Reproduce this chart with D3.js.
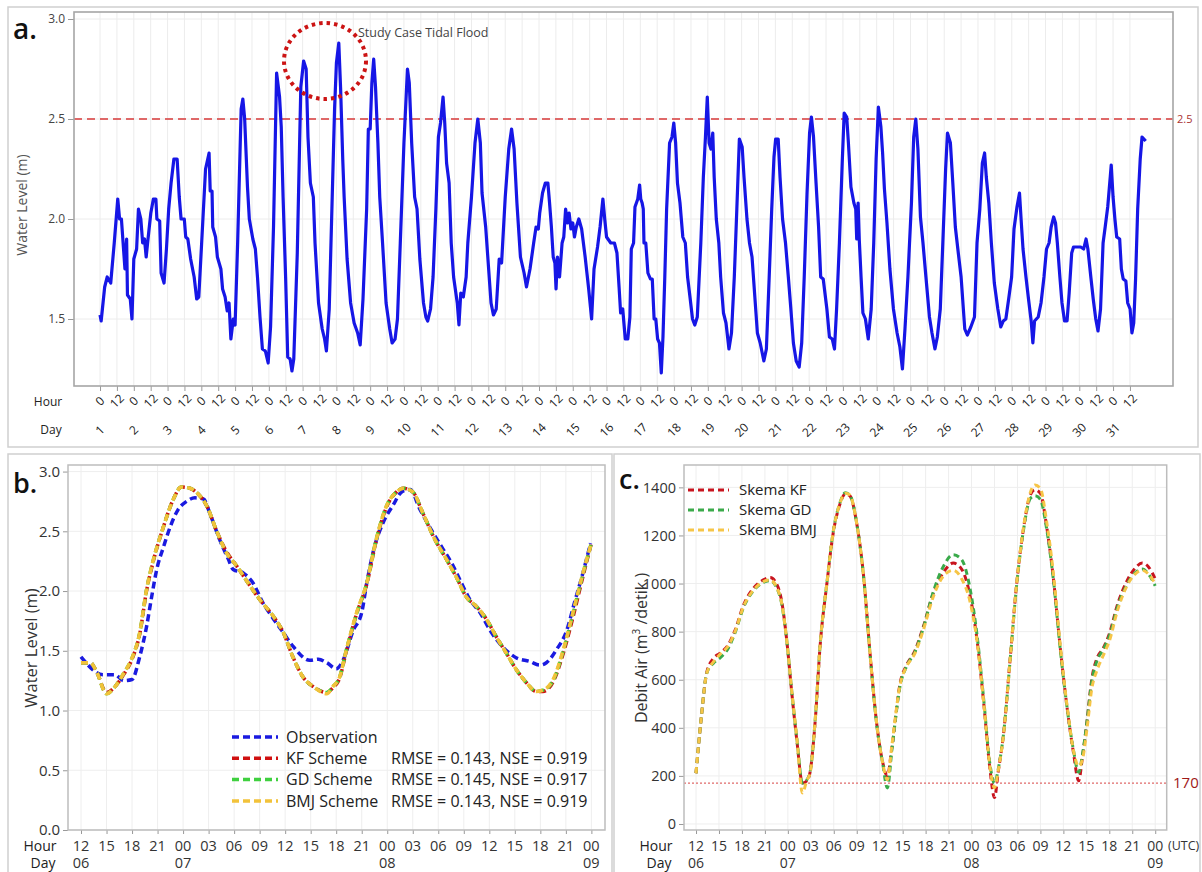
<!DOCTYPE html>
<html><head><meta charset="utf-8">
<script src="https://cdn.jsdelivr.net/npm/d3@7"></script>
<style>
body{margin:0;background:#fff;}
svg{display:block;font-family:"Open Sans","Noto Sans",sans-serif;}
</style></head><body>
<svg id="chart" width="1202" height="872"></svg>
<script>
// ---------- Panel a data: hourly tide record (hour since day 1 00:00, water level m) ----------
const tideObs = [[0,1.52],[0.8,1.49],[3.3,1.66],[5.1,1.71],[7.6,1.68],[10.1,1.88],[12.6,2.10],[13.9,2.00],[15.2,2.00],[17.7,1.75],[18.9,1.90],[19.5,1.62],[21.5,1.60],[22.7,1.50],[24.0,1.80],[26.0,1.85],[27.3,2.05],[29.0,2.00],[30.3,1.88],[31.6,1.90],[32.8,1.81],[34.1,1.90],[36.1,2.03],[37.9,2.10],[39.7,2.10],[40.4,2.00],[42.4,1.99],[43.4,1.73],[45.5,1.68],[47.2,1.85],[48.8,2.05],[50.5,2.18],[52.5,2.30],[54.8,2.30],[56.3,2.11],[57.6,2.00],[59.9,2.00],[60.9,1.91],[62.4,1.90],[64.4,1.80],[66.9,1.71],[68.7,1.60],[70.2,1.61],[72.0,1.85],[75.0,2.25],[77.5,2.33],[78.3,2.14],[79.6,2.14],[80.1,1.96],[82.1,1.91],[83.4,1.81],[85.9,1.75],[87.1,1.65],[88.9,1.61],[90.4,1.54],[91.7,1.58],[93.0,1.40],[94.7,1.50],[96.0,1.47],[97.8,1.88],[100.3,2.55],[101.5,2.60],[102.8,2.50],[104.8,2.16],[106.1,2.00],[108.6,1.90],[110.4,1.85],[111.9,1.71],[113.7,1.51],[115.4,1.35],[117.5,1.34],[119.5,1.28],[121.2,1.46],[123.3,1.96],[125.5,2.73],[127.6,2.61],[128.8,2.46],[130.1,2.11],[131.9,1.71],[133.4,1.31],[135.1,1.30],[136.4,1.24],[137.7,1.30],[140.2,1.83],[142.7,2.66],[144.7,2.79],[146.5,2.75],[147.8,2.41],[149.5,2.18],[151.6,2.11],[152.8,1.88],[155.3,1.58],[157.9,1.45],[159.6,1.40],[160.9,1.34],[162.9,1.55],[166.7,2.55],[168.0,2.78],[169.7,2.88],[171.0,2.65],[172.5,2.30],[173.5,2.11],[175.6,1.80],[178.1,1.58],[180.6,1.48],[183.1,1.43],[184.9,1.37],[186.9,1.60],[189.5,2.05],[190.7,2.45],[192.0,2.45],[193.2,2.68],[194.5,2.80],[195.8,2.66],[197.5,2.38],[198.8,2.11],[200.8,1.88],[203.3,1.58],[205.9,1.45],[207.6,1.38],[209.7,1.40],[211.4,1.50],[213.4,1.88],[216.0,2.38],[218.5,2.75],[219.8,2.68],[221.5,2.38],[223.6,2.11],[225.3,2.05],[227.3,1.80],[229.9,1.58],[231.6,1.51],[232.9,1.49],[234.9,1.55],[236.7,1.71],[238.7,2.05],[240.5,2.41],[242.0,2.48],[243.8,2.61],[245.0,2.48],[246.3,2.28],[248.1,2.18],[249.6,1.88],[251.3,1.71],[253.9,1.58],[255.1,1.47],[256.4,1.63],[258.2,1.61],[260.2,1.71],[261.4,1.88],[264.0,2.11],[266.5,2.38],[268.5,2.50],[270.3,2.38],[271.5,2.13],[274.1,1.96],[276.6,1.71],[277.9,1.58],[279.6,1.52],[281.6,1.55],[283.7,1.80],[285.4,1.78],[288.0,2.11],[290.5,2.35],[292.5,2.45],[294.3,2.35],[296.3,2.08],[298.8,1.81],[301.4,1.73],[303.1,1.66],[305.6,1.75],[308.2,1.88],[309.9,1.96],[311.5,1.95],[312.5,2.03],[314.5,2.13],[316.5,2.18],[318.3,2.18],[319.5,2.08],[320.8,1.96],[322.1,1.81],[323.3,1.78],[324.1,1.65],[325.1,1.81],[326.6,1.71],[328.4,1.88],[329.6,1.91],[330.9,2.05],[332.2,1.98],[333.4,2.03],[334.7,1.95],[336.0,1.98],[337.2,1.91],[338.5,1.96],[340.3,2.00],[342.3,1.95],[344.8,1.81],[347.3,1.65],[349.4,1.50],[351.1,1.75],[353.6,1.86],[355.4,1.96],[357.4,2.10],[358.7,2.00],[360.0,1.91],[363.0,1.88],[365.6,1.88],[367.4,1.83],[368.9,1.66],[370.0,1.53],[371.5,1.55],[373.3,1.40],[375.1,1.40],[376.6,1.51],[377.6,1.85],[379.2,1.88],[380.2,2.06],[382.2,2.10],[383.5,2.17],[384.3,2.10],[385.3,2.08],[386.1,2.05],[386.6,1.88],[387.9,1.88],[389.4,1.73],[391.2,1.70],[392.5,1.70],[393.8,1.50],[395.0,1.50],[396.3,1.40],[397.6,1.38],[398.9,1.23],[400.1,1.41],[401.4,1.71],[402.7,2.05],[404.8,2.38],[406.5,2.41],[407.8,2.48],[409.1,2.38],[410.4,2.18],[412.2,2.08],[414.2,1.91],[416.0,1.88],[417.6,1.71],[419.3,1.61],[421.1,1.50],[422.7,1.47],[424.5,1.51],[427.0,1.88],[428.8,2.21],[430.3,2.41],[431.6,2.61],[432.9,2.38],[434.2,2.35],[435.5,2.43],[436.5,2.21],[438.0,2.00],[439.8,1.88],[441.1,1.71],[443.1,1.53],[444.9,1.48],[447.0,1.35],[448.8,1.43],[450.8,1.71],[452.6,2.05],[454.4,2.40],[456.4,2.36],[457.7,2.21],[459.8,2.00],[461.6,1.88],[463.4,1.81],[465.4,1.61],[467.2,1.43],[469.2,1.38],[471.8,1.29],[473.6,1.35],[475.6,1.71],[477.4,2.05],[479.0,2.31],[480.2,2.40],[482.0,2.40],[483.3,2.21],[485.1,2.00],[487.2,1.88],[489.2,1.71],[491.0,1.55],[492.8,1.38],[494.8,1.29],[496.9,1.26],[498.7,1.38],[500.5,1.71],[502.5,2.13],[504.3,2.43],[505.6,2.51],[507.1,2.41],[508.9,2.18],[510.7,1.96],[512.2,1.71],[514.0,1.70],[516.6,1.55],[518.4,1.41],[520.4,1.40],[522.0,1.35],[523.5,1.55],[525.5,1.88],[527.6,2.30],[528.9,2.53],[530.7,2.51],[531.9,2.38],[533.7,2.16],[535.8,2.08],[537.1,2.05],[537.8,1.90],[538.8,2.08],[539.6,1.90],[540.9,1.71],[542.2,1.53],[544.0,1.50],[546.0,1.40],[548.1,1.55],[549.9,1.88],[551.6,2.30],[553.2,2.56],[555.0,2.46],[556.2,2.33],[557.5,2.15],[559.3,1.98],[561.4,1.75],[563.9,1.55],[566.5,1.43],[568.5,1.36],[570.3,1.25],[572.1,1.45],[574.2,1.71],[576.7,2.08],[578.3,2.41],[579.8,2.50],[581.3,2.35],[583.1,2.01],[584.9,1.88],[587.0,1.71],[589.5,1.51],[591.3,1.43],[593.4,1.35],[595.1,1.41],[597.2,1.55],[599.0,1.88],[601.0,2.25],[602.3,2.43],[604.4,2.38],[606.1,2.18],[607.9,1.96],[610.0,1.83],[612.0,1.71],[614.6,1.45],[616.4,1.42],[618.9,1.46],[621.5,1.51],[623.3,1.88],[625.3,2.05],[627.1,2.28],[628.7,2.33],[629.9,2.21],[631.7,2.08],[633.5,1.88],[635.6,1.68],[638.1,1.55],[640.2,1.46],[642.0,1.49],[643.8,1.50],[645.8,1.60],[647.9,1.71],[649.6,1.95],[651.7,2.06],[653.5,2.13],[654.8,1.98],[656.0,1.85],[658.1,1.71],[659.9,1.60],[661.8,1.49],[663.0,1.38],[664.2,1.49],[666.8,1.51],[668.8,1.58],[670.9,1.71],[672.7,1.85],[674.5,1.88],[676.0,1.96],[677.8,2.01],[679.1,1.98],[680.4,1.88],[682.2,1.71],[683.7,1.58],[685.5,1.49],[687.3,1.49],[688.8,1.63],[690.6,1.83],[691.9,1.86],[694.4,1.86],[697.0,1.86],[699.1,1.85],[700.8,1.90],[702.1,1.85],[704.2,1.71],[705.9,1.60],[707.7,1.50],[709.3,1.44],[711.1,1.55],[712.9,1.88],[714.4,1.96],[716.2,2.06],[718.0,2.21],[718.7,2.27],[720.0,2.11],[721.3,2.00],[722.6,1.91],[724.7,1.90],[725.9,1.75],[727.2,1.70],[729.1,1.69],[730.4,1.58],[732.1,1.55],[733.4,1.43],[734.7,1.48],[736.0,1.70],[737.5,2.05],[739.3,2.30],[740.6,2.41],[743.2,2.39]];
const levelTicksA = [1.5, 2.0, 2.5, 3.0];
const hourTicksA = d3.range(0, 733, 12);
const dayLabelsA = d3.range(1, 32).map(String);
const thresholdA = 2.5;

// ---------- Panel b data (hours since 06 12:00 UTC) ----------
const bObservation = [[0,1.45],[2.6,1.30],[4.0,1.30],[5.0,1.25],[6.0,1.26],[6.9,1.45],[7.7,1.70],[8.3,1.95],[8.9,2.18],[9.7,2.37],[10.5,2.54],[11.4,2.68],[12.4,2.75],[13.4,2.78],[14.4,2.77],[15.2,2.64],[16.3,2.43],[17.3,2.27],[17.9,2.18],[19.1,2.15],[20.2,2.07],[21.4,1.90],[22.4,1.79],[23.8,1.65],[24.9,1.54],[26.9,1.42],[27.9,1.43],[28.9,1.40],[30.0,1.35],[30.8,1.42],[32.0,1.67],[33.0,1.82],[33.6,2.07],[34.5,2.37],[35.5,2.57],[36.7,2.72],[37.7,2.83],[38.7,2.85],[39.8,2.69],[41.2,2.51],[42.4,2.37],[43.6,2.23],[44.7,2.07],[45.7,1.93],[46.9,1.82],[48.1,1.67],[49.6,1.53],[51.2,1.44],[52.8,1.41],[53.9,1.38],[54.7,1.40],[55.9,1.51],[57.1,1.67],[58.0,1.90],[59.0,2.15],[59.9,2.40]];
const bHours = [0,1.1,1.8,3.0,4.0,5.0,6.0,6.9,7.7,8.5,9.7,10.8,11.8,12.8,13.8,14.8,15.9,17.1,18.3,19.9,21.0,22.6,23.8,24.9,26.1,27.3,28.9,29.6,30.4,31.2,32.4,33.6,34.7,35.9,37.1,37.9,39.0,40.2,41.4,43.0,44.1,45.3,46.5,47.7,48.8,50.0,51.2,52.4,53.5,54.3,55.5,56.7,57.9,59.0,60.0];
const bKF  = [1.40,1.40,1.33,1.15,1.20,1.30,1.43,1.64,2.00,2.25,2.54,2.76,2.87,2.86,2.81,2.71,2.51,2.33,2.21,2.04,1.93,1.79,1.65,1.45,1.28,1.20,1.15,1.19,1.27,1.50,1.81,2.06,2.42,2.70,2.83,2.86,2.83,2.65,2.46,2.26,2.12,1.95,1.87,1.76,1.62,1.48,1.34,1.23,1.16,1.16,1.24,1.48,1.80,2.12,2.40];
const bGD  = [1.40,1.40,1.33,1.14,1.20,1.31,1.44,1.65,2.01,2.26,2.54,2.76,2.87,2.86,2.81,2.71,2.51,2.32,2.21,2.04,1.93,1.79,1.65,1.45,1.28,1.20,1.15,1.20,1.28,1.51,1.81,2.07,2.43,2.71,2.83,2.86,2.83,2.65,2.46,2.26,2.12,1.95,1.87,1.76,1.62,1.48,1.34,1.23,1.16,1.17,1.25,1.50,1.83,2.14,2.40];
const bBMJ = [1.40,1.40,1.33,1.14,1.20,1.31,1.44,1.65,2.01,2.26,2.54,2.76,2.87,2.86,2.81,2.71,2.51,2.32,2.21,2.04,1.93,1.79,1.65,1.45,1.28,1.20,1.14,1.20,1.28,1.51,1.82,2.07,2.43,2.71,2.83,2.86,2.83,2.65,2.46,2.26,2.12,1.95,1.87,1.76,1.62,1.48,1.34,1.23,1.16,1.17,1.26,1.51,1.84,2.15,2.40];
const levelTicksB = [0,0.5,1.0,1.5,2.0,2.5,3.0];
const hourTicksB = d3.range(0, 61, 3);
const hourLabelsB = ['12','15','18','21','00','03','06','09','12','15','18','21','00','03','06','09','12','15','18','21','00'];
const dayTicksB = [0, 12, 36, 60];
const dayLabelsB = ['06','07','08','09'];
const legendB = ['Observation','KF Scheme','GD Scheme','BMJ Scheme'];
const statsB = ['', 'RMSE = 0.143, NSE = 0.919', 'RMSE = 0.145, NSE = 0.917', 'RMSE = 0.143, NSE = 0.919'];

// ---------- Panel c data (hours since 06 12:00 UTC, discharge m3/s) ----------
const cHours = [0,0.7,1.4,2.3,3.1,4.2,5.1,6.2,7.5,8.8,9.7,10.5,11.2,11.9,12.5,13.2,13.9,14.5,14.9,15.6,16.2,17.1,17.9,18.8,19.5,20.1,21.0,21.9,22.7,23.6,24.4,25.0,25.6,26.7,27.5,28.6,29.7,31.0,32.3,33.6,34.7,35.8,36.7,37.6,38.4,39.0,39.5,40.2,41.0,41.9,42.8,43.7,44.3,45.0,45.8,46.7,47.6,48.5,49.3,50.0,50.5,51.1,51.7,52.4,53.2,54.1,55.0,56.3,57.4,58.3,59.1,60.0];
const cKF  = [211,446,630,690,710,745,805,910,980,1015,1025,1000,925,750,550,340,170,180,215,440,735,1000,1205,1330,1372,1365,1250,1030,725,420,255,200,320,590,660,720,820,960,1045,1085,1060,950,770,500,230,110,220,380,670,1000,1230,1370,1390,1375,1240,1020,730,480,300,180,280,430,600,690,730,800,905,1010,1065,1085,1070,1020];
const cGD  = [211,446,627,670,690,730,795,900,970,1005,1012,985,915,750,555,350,170,185,215,445,738,1002,1210,1335,1378,1368,1250,1025,720,415,250,150,310,580,655,715,815,965,1070,1120,1100,980,790,515,250,170,230,380,665,995,1225,1355,1365,1350,1230,1015,725,480,310,215,290,430,590,680,725,790,895,995,1045,1060,1040,990];
const cBMJ = [211,446,627,675,705,740,800,904,973,1008,1015,987,918,751,557,349,129,183,211,446,737,1001,1209,1333,1375,1368,1250,1028,723,419,252,185,330,585,654,710,807,945,1030,1055,1020,925,765,502,238,150,225,377,668,1001,1236,1380,1410,1395,1260,1040,740,488,308,240,270,400,560,640,700,770,880,990,1040,1055,1040,1000];
const flowTicksC = [0,200,400,600,800,1000,1200,1400];
const thresholdC = 170;
const legendC = ['Skema KF','Skema GD','Skema BMJ'];

// ---------- drawing ----------
const FONT = '"Open Sans","Noto Sans",sans-serif';
const svg = d3.select('#chart');
svg.append('rect').attr('width',1202).attr('height',872).attr('fill','#fff');

// panel frames
svg.append('rect').attr('x',8).attr('y',7).attr('width',1190).attr('height',440).attr('fill','none').attr('stroke','#cfcfcf').attr('stroke-width',1.5);
svg.append('rect').attr('x',8).attr('y',454).attr('width',604).attr('height',430).attr('fill','none').attr('stroke','#cfcfcf').attr('stroke-width',1.5);
svg.append('rect').attr('x',614).attr('y',454).attr('width',586).attr('height',430).attr('fill','none').attr('stroke','#cfcfcf').attr('stroke-width',1.5);

function styleAxis(g, size, color){
  g.attr('font-family', FONT).attr('font-size', size);
  g.select('.domain').remove();
  g.selectAll('.tick line').attr('stroke','#999');
  g.selectAll('.tick text').attr('fill', color);
}

// ===== Panel a =====
const xA = d3.scaleLinear().domain([-18.5, 762.6]).range([74, 1173]);
const yA = d3.scaleLinear().domain([1.165, 3.035]).range([386, 12]);
const gA = svg.append('g');
gA.append('g').selectAll('line').data(hourTicksA).join('line')
  .attr('x1', d => xA(d)).attr('x2', d => xA(d)).attr('y1', 12).attr('y2', 386)
  .attr('stroke', '#ececec').attr('stroke-width', 1);
gA.append('g').selectAll('line').data(levelTicksA).join('line')
  .attr('x1', 74).attr('x2', 1173).attr('y1', d => yA(d)).attr('y2', d => yA(d))
  .attr('stroke', '#ececec').attr('stroke-width', 1);
gA.append('g').attr('transform','translate(74,0)')
  .call(d3.axisLeft(yA).tickValues(levelTicksA).tickFormat(d3.format('.1f')).tickSize(6).tickPadding(3))
  .call(g => styleAxis(g, 12, '#444'));
gA.append('g').attr('transform','translate(0,386)')
  .call(d3.axisBottom(xA).tickValues(hourTicksA).tickFormat('').tickSize(5))
  .call(g => styleAxis(g, 12, '#444'));
gA.append('line').attr('x1',74).attr('x2',1173).attr('y1',yA(thresholdA)).attr('y2',yA(thresholdA))
  .attr('stroke','#d83a3a').attr('stroke-width',1.6).attr('stroke-dasharray','8,5');
gA.append('text').attr('x',1177).attr('y',yA(thresholdA)).attr('dy','0.35em')
  .attr('font-size',11).attr('fill','#a33').text(thresholdA.toFixed(1));
gA.append('path').datum(tideObs)
  .attr('d', d3.line().x(d => xA(d[0])).y(d => yA(d[1])))
  .attr('fill','none').attr('stroke','#1616e6').attr('stroke-width',3.2).attr('stroke-linejoin','round');
gA.append('rect').attr('x',74).attr('y',12).attr('width',1099).attr('height',374)
  .attr('fill','none').attr('stroke','#a6a6a6').attr('stroke-width',1.6);
gA.append('ellipse').attr('cx',325).attr('cy',61).attr('rx',41).attr('ry',38)
  .attr('fill','none').attr('stroke','#cc1414').attr('stroke-width',4).attr('stroke-dasharray','3.5,4');
gA.append('text').attr('x',358).attr('y',37).attr('font-size',12.5).attr('fill','#444').text('Study Case Tidal Flood');
gA.selectAll('text.hl').data(hourTicksA).join('text').attr('class','hl')
  .attr('transform', d => `translate(${xA(d)},401) rotate(-45)`)
  .attr('text-anchor','middle').attr('dy','0.35em').attr('font-size',12).attr('fill','#222')
  .text(d => d % 24 === 0 ? '0' : '12');
gA.selectAll('text.dl').data(dayLabelsA).join('text').attr('class','dl')
  .attr('transform', (d, i) => `translate(${xA(i * 24)},430) rotate(-45)`)
  .attr('text-anchor','middle').attr('dy','0.35em').attr('font-size',12).attr('fill','#222')
  .text(d => d);
gA.append('text').attr('x',48).attr('y',402).attr('dy','0.35em').attr('text-anchor','middle').attr('font-size',12).attr('fill','#222').text('Hour');
gA.append('text').attr('x',51).attr('y',430).attr('dy','0.35em').attr('text-anchor','middle').attr('font-size',12).attr('fill','#222').text('Day');
gA.append('text').attr('transform','translate(22,205) rotate(-90)').attr('text-anchor','middle').attr('dy','0.35em')
  .attr('font-size',14).attr('fill','#555').text('Water Level (m)');
svg.append('text').attr('x',13).attr('y',39).attr('font-size',28).attr('font-weight',600).attr('fill','#111').text('a.');

// ===== Panel b =====
const xB = d3.scaleLinear().domain([-1.53, 61.6]).range([68, 605]);
const yB = d3.scaleLinear().domain([0, 3.055]).range([830, 465]);
const gB = svg.append('g');
gB.append('g').selectAll('line').data(hourTicksB).join('line')
  .attr('x1', d => xB(d)).attr('x2', d => xB(d)).attr('y1', 465).attr('y2', 830).attr('stroke','#eeeeee');
gB.append('g').selectAll('line').data(levelTicksB).join('line')
  .attr('x1', 68).attr('x2', 605).attr('y1', d => yB(d)).attr('y2', d => yB(d)).attr('stroke','#eeeeee');
gB.append('g').attr('transform','translate(68,0)')
  .call(d3.axisLeft(yB).tickValues(levelTicksB).tickFormat(d3.format('.1f')).tickSize(5).tickPadding(3))
  .call(g => styleAxis(g, 15, '#333'));
gB.append('g').attr('transform','translate(0,830)')
  .call(d3.axisBottom(xB).tickValues(hourTicksB).tickFormat('').tickSize(4))
  .call(g => styleAxis(g, 15, '#333'));
const lineB = d3.line().x(d => xB(d[0])).y(d => yB(d[1])).curve(d3.curveMonotoneX);
const seriesB = [
  {name: legendB[0], pts: bObservation, color: '#1a1ae0'},
  {name: legendB[1], pts: bHours.map((h, i) => [h, bKF[i]]), color: '#d01010'},
  {name: legendB[2], pts: bHours.map((h, i) => [h, bGD[i]]), color: '#3fd03f'},
  {name: legendB[3], pts: bHours.map((h, i) => [h, bBMJ[i]]), color: '#f2c23a'}
];
gB.selectAll('path.s').data(seriesB).join('path').attr('class','s')
  .attr('d', d => lineB(d.pts)).attr('fill','none').attr('stroke', d => d.color)
  .attr('stroke-width',3.5).attr('stroke-dasharray','7,4');
gB.append('rect').attr('x',68).attr('y',465).attr('width',537).attr('height',365)
  .attr('fill','none').attr('stroke','#bdbdbd').attr('stroke-width',1.5);
gB.selectAll('text.hl').data(hourTicksB).join('text').attr('class','hl')
  .attr('x', d => xB(d)).attr('y', 846).attr('dy','0.35em').attr('text-anchor','middle')
  .attr('font-size',14.5).attr('fill','#333').text((d, i) => hourLabelsB[i]);
gB.selectAll('text.dl').data(dayTicksB).join('text').attr('class','dl')
  .attr('x', d => xB(d)).attr('y', 863).attr('dy','0.35em').attr('text-anchor','middle')
  .attr('font-size',14.5).attr('fill','#333').text((d, i) => dayLabelsB[i]);
gB.append('text').attr('x',40).attr('y',846).attr('dy','0.35em').attr('text-anchor','middle').attr('font-size',14).attr('fill','#222').text('Hour');
gB.append('text').attr('x',43).attr('y',863).attr('dy','0.35em').attr('text-anchor','middle').attr('font-size',14).attr('fill','#222').text('Day');
gB.append('text').attr('transform','translate(31,648) rotate(-90)').attr('text-anchor','middle').attr('dy','0.35em')
  .attr('font-size',16.5).attr('fill','#333').text('Water Level (m)');
const legB = gB.selectAll('g.leg').data(seriesB).join('g').attr('class','leg')
  .attr('transform', (d, i) => `translate(0,${737 + i * 21.3})`);
legB.append('line').attr('x1',232).attr('x2',278).attr('y1',0).attr('y2',0)
  .attr('stroke', d => d.color).attr('stroke-width',3.5).attr('stroke-dasharray','7,4');
legB.append('text').attr('x',286).attr('y',0).attr('dy','0.35em').attr('font-size',16).attr('fill','#222').text(d => d.name);
legB.append('text').attr('x',391).attr('y',0).attr('dy','0.35em').attr('font-size',16).attr('fill','#222').text((d, i) => statsB[i]);
svg.append('text').attr('x',13).attr('y',493).attr('font-size',27).attr('font-weight',600).attr('fill','#111').text('b.');

// ===== Panel c =====
const xC = d3.scaleLinear().domain([-1.57, 61.5]).range([684, 1166.7]);
const yC = d3.scaleLinear().domain([-25, 1493]).range([830, 465]);
const gC = svg.append('g');
gC.append('g').selectAll('line').data(hourTicksB).join('line')
  .attr('x1', d => xC(d)).attr('x2', d => xC(d)).attr('y1', 465).attr('y2', 830).attr('stroke','#eeeeee');
gC.append('g').selectAll('line').data(flowTicksC).join('line')
  .attr('x1', 684).attr('x2', 1166.7).attr('y1', d => yC(d)).attr('y2', d => yC(d)).attr('stroke','#eeeeee');
gC.append('g').attr('transform','translate(684,0)')
  .call(d3.axisLeft(yC).tickValues(flowTicksC).tickFormat(d3.format('d')).tickSize(5).tickPadding(3))
  .call(g => styleAxis(g, 14.5, '#333'));
gC.append('g').attr('transform','translate(0,830)')
  .call(d3.axisBottom(xC).tickValues(hourTicksB).tickFormat('').tickSize(4))
  .call(g => styleAxis(g, 15, '#333'));
gC.append('line').attr('x1',684).attr('x2',1166.7).attr('y1',yC(thresholdC)).attr('y2',yC(thresholdC))
  .attr('stroke','#e06a6a').attr('stroke-width',1.3).attr('stroke-dasharray','2,2');
gC.append('text').attr('x',1173).attr('y',yC(thresholdC)).attr('dy','0.35em').attr('font-size',15).attr('fill','#a01818').text(String(thresholdC));
const lineC = d3.line().x(d => xC(d[0])).y(d => yC(d[1])).curve(d3.curveMonotoneX);
const seriesC = [
  {name: legendC[0], vals: cKF, color: '#c8141e'},
  {name: legendC[1], vals: cGD, color: '#3aaa4a'},
  {name: legendC[2], vals: cBMJ, color: '#f6c547'}
];
gC.selectAll('path.s').data(seriesC).join('path').attr('class','s')
  .attr('d', d => lineC(cHours.map((h, i) => [h, d.vals[i]]))).attr('fill','none').attr('stroke', d => d.color)
  .attr('stroke-width',3).attr('stroke-dasharray','6,4');
gC.append('rect').attr('x',684).attr('y',465).attr('width',482.7).attr('height',365)
  .attr('fill','none').attr('stroke','#bdbdbd').attr('stroke-width',1.5);
gC.selectAll('text.hl').data(hourTicksB).join('text').attr('class','hl')
  .attr('x', d => xC(d)).attr('y', 846).attr('dy','0.35em').attr('text-anchor','middle')
  .attr('font-size',14).attr('fill','#333').text((d, i) => hourLabelsB[i]);
gC.selectAll('text.dl').data(dayTicksB).join('text').attr('class','dl')
  .attr('x', d => xC(d)).attr('y', 863).attr('dy','0.35em').attr('text-anchor','middle')
  .attr('font-size',14).attr('fill','#333').text((d, i) => dayLabelsB[i]);
gC.append('text').attr('x',1168).attr('y',846).attr('dy','0.35em').attr('font-size',12.5).attr('fill','#333').text('(UTC)');
gC.append('text').attr('x',656).attr('y',846).attr('dy','0.35em').attr('text-anchor','middle').attr('font-size',14).attr('fill','#222').text('Hour');
gC.append('text').attr('x',659).attr('y',863).attr('dy','0.35em').attr('text-anchor','middle').attr('font-size',14).attr('fill','#222').text('Day');
const titleC = gC.append('text').attr('transform','translate(641,648) rotate(-90)').attr('text-anchor','middle').attr('dy','0.35em')
  .attr('font-size',16).attr('fill','#333');
titleC.append('tspan').text('Debit Air (m');
titleC.append('tspan').attr('font-size',10).attr('dy','-0.7em').text('3');
titleC.append('tspan').attr('dy','0.45em').text(' /detik  )');
const legC = gC.selectAll('g.leg').data(seriesC).join('g').attr('class','leg')
  .attr('transform', (d, i) => `translate(0,${490 + i * 20})`);
legC.append('line').attr('x1',688).attr('x2',729).attr('y1',0).attr('y2',0)
  .attr('stroke', d => d.color).attr('stroke-width',3).attr('stroke-dasharray','6,4');
legC.append('text').attr('x',739).attr('y',0).attr('dy','0.35em').attr('font-size',15).attr('fill','#222').text(d => d.name);
svg.append('text').attr('x',619).attr('y',489).attr('font-size',27).attr('font-weight',600).attr('fill','#111').text('c.');
</script></body></html>
